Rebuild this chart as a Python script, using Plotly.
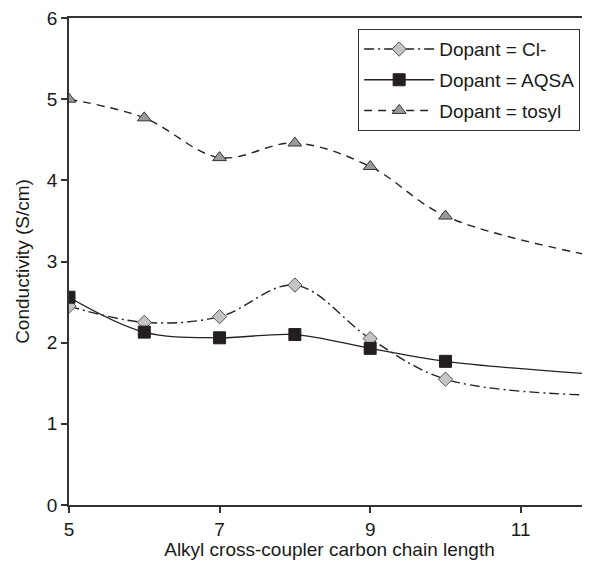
import plotly.graph_objects as go

chain_length = [5, 6, 7, 8, 9, 10, 12]
cond_cl = [2.45, 2.25, 2.32, 2.71, 2.05, 1.55, 1.35]
cond_aqsa = [2.56, 2.13, 2.06, 2.10, 1.93, 1.77, 1.61]
cond_tosyl = [5.00, 4.77, 4.28, 4.46, 4.17, 3.56, 3.06]

x_ticks = [5, 7, 9, 11]
y_ticks = [0, 1, 2, 3, 4, 5, 6]

FONT = "Liberation Sans, Arial, sans-serif"
AX = "#333333"

fig = go.Figure()
fig.add_trace(go.Scatter(
    x=chain_length, y=cond_cl, name="Dopant = Cl-", mode="lines+markers",
    line=dict(color="#222222", width=1.4, dash="10px,4px,2px,4px", shape="spline"),
    marker=dict(symbol="diamond", size=11, color="#c4c4c4",
                line=dict(color="#555555", width=1)),
    legendgroup="a",
))
fig.add_trace(go.Scatter(
    x=chain_length, y=cond_aqsa, name="Dopant = AQSA", mode="lines+markers",
    line=dict(color="#222222", width=1.3, shape="spline"),
    marker=dict(symbol="square", size=12, color="#231f20",
                line=dict(color="#231f20", width=1)),
    legendgroup="b",
))
fig.add_trace(go.Scatter(
    x=chain_length, y=cond_tosyl, name="Dopant = tosyl", mode="lines+markers",
    line=dict(color="#222222", width=1.4, dash="8px,6px", shape="spline"),
    marker=dict(symbol="triangle-up", size=12, color="#9a9a9a",
                line=dict(color="#333333", width=1)),
    legendgroup="c",
))

fig.update_layout(
    width=582, height=552,
    margin=dict(l=61, r=0, t=10, b=55),
    paper_bgcolor="white", plot_bgcolor="white",
    font=dict(family=FONT, size=19, color="#1a1a1a"),
    showlegend=True,
    legend=dict(
        x=0.555, y=0.977, xanchor="left", yanchor="top",
        bordercolor="#333333", borderwidth=1, bgcolor="white",
        font=dict(family=FONT, size=19, color="#1a1a1a"),
        itemwidth=70, tracegroupgap=3, traceorder="grouped",
    ),
    xaxis=dict(
        range=[5, 11.92], tickvals=x_ticks, ticktext=[str(v) for v in x_ticks],
        showgrid=False, zeroline=False, showline=True, linecolor=AX, linewidth=1.5,
        mirror=True, ticks="outside", ticklen=6, tickcolor=AX, tickwidth=1.5,
        automargin=False, ticklabeloverflow="allow",
        title=dict(text="Alkyl cross-coupler carbon chain length", standoff=6,
                   font=dict(size=19)),
    ),
    yaxis=dict(
        range=[0, 6], tickvals=y_ticks,
        showgrid=False, zeroline=False, showline=True, linecolor=AX, linewidth=1.5,
        ticks="outside", ticklen=6, tickcolor=AX, tickwidth=1.5,
        automargin=False, ticklabeloverflow="allow",
        title=dict(text="Conductivity (S/cm)", standoff=12, font=dict(size=19)),
    ),
)

fig.write_html("out.html")
